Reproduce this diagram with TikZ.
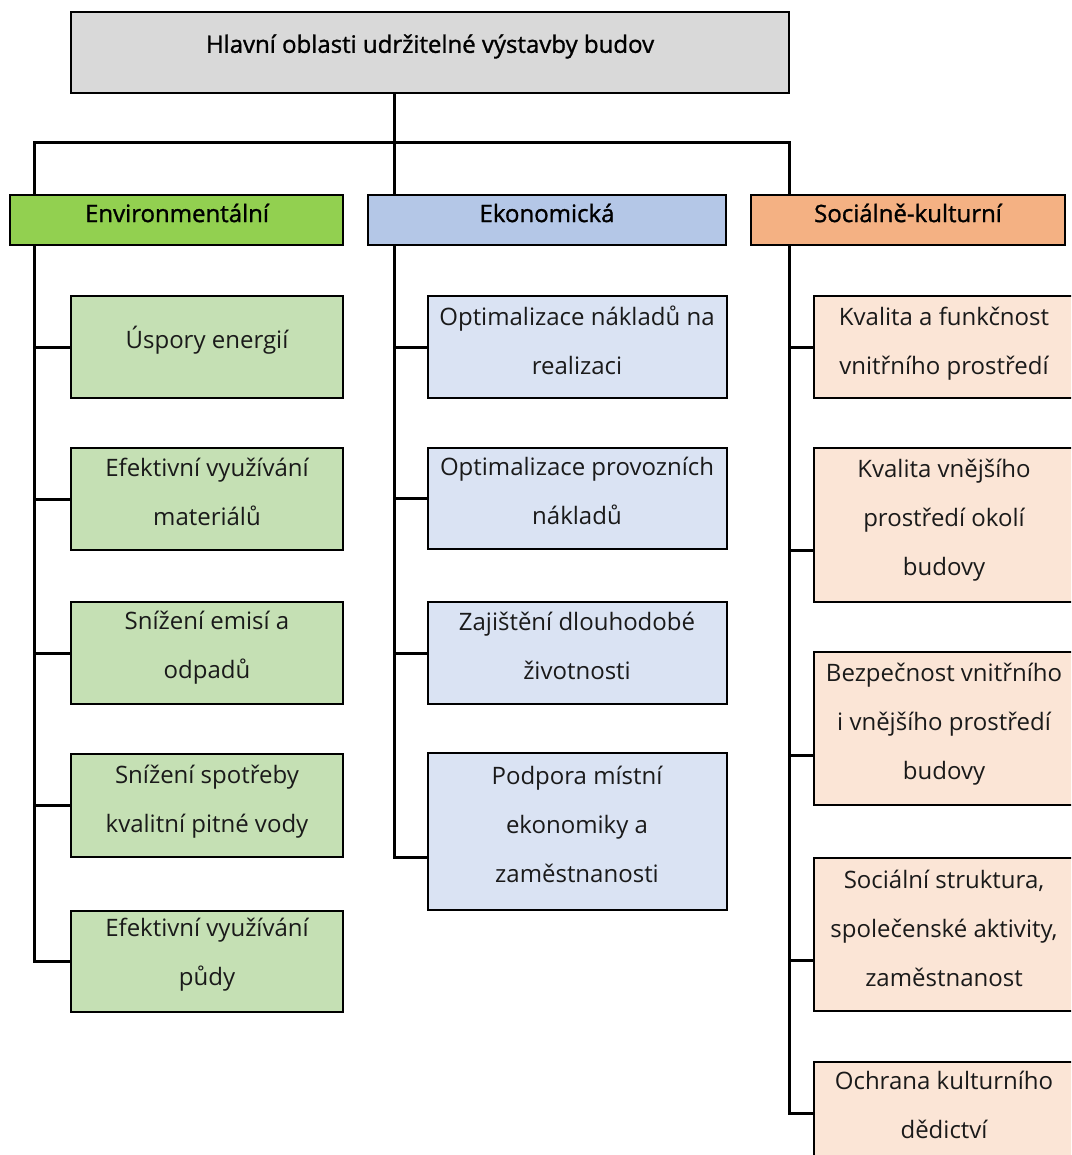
\documentclass[tikz,border=0pt]{standalone}
\usepackage{fontspec}
\setmainfont{Open Sans}
\newfontfamily\hdfont{Open Sans}[FakeBold=1.2]
\definecolor{topgray}{HTML}{D9D9D9}
\definecolor{envhd}{HTML}{92D050}
\definecolor{ekohd}{HTML}{B4C7E7}
\definecolor{sochd}{HTML}{F4B183}
\definecolor{envbx}{HTML}{C5E0B4}
\definecolor{ekobx}{HTML}{DAE3F3}
\definecolor{socbx}{HTML}{FBE5D6}
\definecolor{txtc}{HTML}{1A1A1A}
\begin{document}
\begin{tikzpicture}[x=1pt,y=-1pt,
  frame/.style={draw=black, line width=2pt, inner sep=0pt, anchor=center},
  conn/.style={draw=black, line width=3pt},
  bodytxt/.style={text=txtc, align=center, inner sep=0pt, font=\fontsize{24}{49}\selectfont},
  headtxt/.style={text=black, inner sep=0pt, font=\hdfont\fontsize{24}{29}\selectfont}]
\useasboundingbox (0,0) rectangle (1071,1155);
\clip (0,0) rectangle (1071,1155);
% top
\node[frame, fill=topgray, minimum width=718pt, minimum height=81pt] (top) at (430,52.5) {};
\node[headtxt] (toptxt) at (430,46.5) {Hlavní oblasti udržitelné výstavby budov};
% headers
\node[frame, fill=envhd, minimum width=333pt, minimum height=50pt] (envh) at (176.5,220) {};
\node[frame, fill=ekohd, minimum width=358pt, minimum height=50pt] (ekoh) at (547,220) {};
\node[frame, fill=sochd, minimum width=314pt, minimum height=50pt] (soch) at (908,220) {};
\node[headtxt] (envht) at (177,213) {Environmentální};
\node[headtxt] (ekoht) at (547,213) {Ekonomická};
\node[headtxt] (socht) at (908,213) {Sociálně-kulturní};
% spine coordinates
\coordinate (es) at ([xshift=25pt]envh.south west);
\coordinate (ks) at ([xshift=27pt]ekoh.south west);
\coordinate (ss) at ([xshift=39pt]soch.south west);
\coordinate (bar) at (0,143);
% env children
\node[frame, fill=envbx, minimum width=272pt, minimum height=102pt] (e1) at (207,347) {};
\node[frame, fill=envbx, minimum width=272pt, minimum height=102pt] (e2) at (207,499) {};
\node[frame, fill=envbx, minimum width=272pt, minimum height=102pt] (e3) at (207,653) {};
\node[frame, fill=envbx, minimum width=272pt, minimum height=103pt] (e4) at (207,805.5) {};
\node[frame, fill=envbx, minimum width=272pt, minimum height=101pt] (e5) at (207,961.5) {};
\node[bodytxt] (e1t) at (207,340.5) {Úspory energií};
\node[bodytxt] (e2t) at (207,492) {Efektivní využívání\\materiálů};
\node[bodytxt] (e3t) at (207,648) {Snížení emisí a\\odpadů};
\node[bodytxt] (e4t) at (207,802) {Snížení spotřeby\\kvalitní pitné vody};
\node[bodytxt] (e5t) at (207,955) {Efektivní využívání\\půdy};
% eko children
\node[frame, fill=ekobx, minimum width=299pt, minimum height=102pt] (k1) at (577.5,347) {};
\node[frame, fill=ekobx, minimum width=299pt, minimum height=101pt] (k2) at (577.5,498.5) {};
\node[frame, fill=ekobx, minimum width=299pt, minimum height=102pt] (k3) at (577.5,653) {};
\node[frame, fill=ekobx, minimum width=299pt, minimum height=157pt] (k4) at (577.5,831.5) {};
\node[bodytxt] (k1t) at (577,340.5) {Optimalizace nákladů na\\realizaci};
\node[bodytxt] (k2t) at (577,491) {Optimalizace provozních\\nákladů};
\node[bodytxt] (k3t) at (577,645.5) {Zajištění dlouhodobé\\životnosti};
\node[bodytxt] (k4t) at (577,824) {Podpora místní\\ekonomiky a\\zaměstnanosti};
% soc children
\node[frame, fill=socbx, minimum width=260pt, minimum height=102pt] (s1) at (944,347) {};
\node[frame, fill=socbx, minimum width=260pt, minimum height=154pt] (s2) at (944,525) {};
\node[frame, fill=socbx, minimum width=260pt, minimum height=153pt] (s3) at (944,728.5) {};
\node[frame, fill=socbx, minimum width=260pt, minimum height=153pt] (s4) at (944,934.5) {};
\node[frame, fill=socbx, minimum width=260pt, minimum height=102pt] (s5) at (944,1113) {};
\node[bodytxt] (s1t) at (944,344) {Kvalita a funkčnost\\vnitřního prostředí};
\node[bodytxt] (s2t) at (944,520) {Kvalita vnějšího\\prostředí okolí\\budovy};
\node[bodytxt] (s3t) at (944,724.5) {Bezpečnost vnitřního\\i vnějšího prostředí\\budovy};
\node[bodytxt] (s4t) at (944,928) {Sociální struktura,\\společenské aktivity,\\zaměstnanost};
\node[bodytxt] (s5t) at (944,1104.5) {Ochrana kulturního\\dědictví};
% connectors top
\draw[conn] (top.south -| ks) -- (ks |- bar);
\draw[conn] (envh.north -| es) -- (es |- bar) -- (ss |- bar) -- (soch.north -| ss);
\draw[conn] (ks |- bar) -- (ekoh.north -| ks);
% env spine
\draw[conn] (es) |- (e1.west);
\draw[conn] (es) |- (e2.west);
\draw[conn] (es) |- (e3.west);
\draw[conn] (es) |- (e4.west);
\draw[conn] (es) |- (e5.west);
% eko spine
\draw[conn] (ks) |- (k1.west);
\draw[conn] (ks) |- (k2.west);
\draw[conn] (ks) |- (k3.west);
\draw[conn] (ks) |- ([yshift=-25.5pt]k4.west);
% soc spine
\draw[conn] (ss) |- (s1.west);
\draw[conn] (ss) |- ([yshift=-25pt]s2.west);
\draw[conn] (ss) |- ([yshift=-26.5pt]s3.west);
\draw[conn] (ss) |- ([yshift=-25.5pt]s4.west);
\draw[conn] (ss) |- (s5.west);
\end{tikzpicture}
\end{document}
